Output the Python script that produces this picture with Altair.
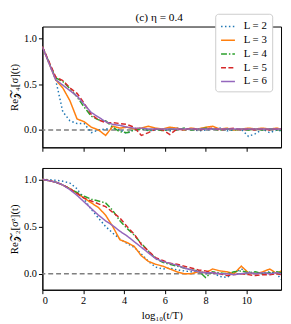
import altair as alt
import pandas as pd

X = [0.0, 0.65, 1.0, 1.35, 1.7, 2.05, 2.4, 2.75, 3.1, 3.45,
     3.8, 4.15, 4.5, 4.85, 5.2, 5.55, 5.9, 6.25, 6.6, 6.95,
     7.3, 7.65, 8.0, 8.35, 8.7, 9.05, 9.4, 9.75, 10.1, 10.45,
     10.8, 11.15, 11.5, 11.7]

LABELS = ["L = 2", "L = 3", "L = 4", "L = 5", "L = 6"]
COLORS = ["#1f77b4", "#ff7f0e", "#2ca02c", "#d62728", "#9467bd"]
DASHES = [[1.5, 2.5], [1, 0], [6, 2, 1.5, 2], [5, 2.5], [1, 0]]

# top panel: Re Z4^[sigma](t)
T2 = [0.91, 0.55, 0.20, 0.10, 0.07, 0.07, -0.03, 0.00, 0.01, 0.02,
      0.00, -0.04, 0.01, 0.02, -0.01, 0.00, 0.01, -0.01, 0.02, 0.00,
      0.01, -0.01, 0.00, 0.01, 0.02, -0.01, 0.00, 0.01, -0.07, -0.04,
      0.01, -0.03, 0.00, -0.01]
T3 = [0.91, 0.55, 0.46, 0.32, 0.12, 0.09, 0.03, 0.00, -0.06, 0.04,
      0.02, 0.03, 0.01, 0.02, 0.04, 0.02, 0.01, 0.03, 0.02, 0.00,
      0.02, 0.01, 0.03, 0.04, 0.01, 0.02, 0.00, 0.01, 0.02, 0.01,
      0.02, 0.01, 0.02, 0.01]
T4 = [0.91, 0.57, 0.53, 0.45, 0.36, 0.25, 0.15, 0.11, 0.10, 0.03,
      -0.02, -0.03, 0.00, 0.01, 0.00, 0.01, -0.01, 0.01, 0.00, 0.02,
      0.00, 0.01, 0.02, 0.01, 0.00, 0.01, 0.00, 0.01, 0.00, 0.01,
      0.00, 0.01, 0.00, 0.00]
T5 = [0.91, 0.58, 0.54, 0.46, 0.40, 0.29, 0.17, 0.11, 0.08, 0.08,
      0.07, 0.06, 0.03, -0.06, -0.03, 0.01, 0.00, -0.05, 0.01, 0.00,
      0.02, 0.00, 0.01, 0.02, 0.00, 0.01, 0.02, 0.00, 0.01, 0.00,
      0.01, 0.00, 0.01, 0.01]
T6 = [0.91, 0.55, 0.49, 0.43, 0.37, 0.28, 0.19, 0.14, 0.09, 0.06,
      0.05, 0.03, 0.02, 0.02, 0.01, 0.01, 0.01, 0.01, 0.01, 0.01,
      0.01, 0.01, 0.01, 0.01, 0.01, 0.01, 0.01, 0.01, 0.01, 0.01,
      0.01, 0.01, 0.01, 0.01]

# bottom panel: Re Z2^[sigma^z](t)
B2 = [1.00, 0.99, 0.98, 0.96, 0.90, 0.79, 0.68, 0.59, 0.50, 0.43,
      0.37, 0.32, 0.28, 0.21, 0.13, 0.07, 0.05, 0.06, 0.04, 0.03,
      0.02, 0.03, 0.00, 0.01, -0.03, -0.04, 0.01, 0.05, 0.02, 0.00,
      0.01, 0.02, 0.00, -0.06]
B3 = [1.00, 0.97, 0.94, 0.90, 0.85, 0.80, 0.75, 0.70, 0.62, 0.50,
      0.36, 0.33, 0.29, 0.19, 0.13, 0.10, 0.08, 0.05, 0.02, 0.00,
      0.00, 0.02, 0.01, 0.05, 0.03, 0.02, 0.00, 0.08, 0.01, 0.00,
      0.02, 0.05, 0.00, 0.03]
B4 = [1.00, 0.97, 0.94, 0.90, 0.86, 0.82, 0.79, 0.77, 0.75, 0.67,
      0.56, 0.48, 0.41, 0.32, 0.24, 0.16, 0.12, 0.10, 0.08, 0.06,
      0.04, 0.03, -0.04, 0.02, 0.01, 0.00, 0.02, 0.03, 0.01, 0.02,
      0.00, 0.01, 0.02, 0.01]
B5 = [1.00, 0.97, 0.94, 0.90, 0.85, 0.80, 0.77, 0.74, 0.71, 0.65,
      0.59, 0.50, 0.42, 0.31, 0.24, 0.17, 0.14, 0.11, 0.10, 0.08,
      0.06, 0.04, 0.03, 0.01, 0.00, -0.02, -0.01, 0.00, -0.01, -0.02,
      -0.01, -0.01, 0.00, -0.01]
B6 = [1.00, 0.97, 0.94, 0.89, 0.83, 0.76, 0.69, 0.62, 0.56, 0.51,
      0.45, 0.40, 0.34, 0.28, 0.22, 0.16, 0.13, 0.11, 0.09, 0.06,
      0.04, 0.02, 0.01, 0.01, 0.00, 0.00, -0.01, 0.00, 0.01, 0.00,
      0.01, 0.00, 0.01, 0.00]

ZERO = [0.0]
X_TICKS = [0, 2, 4, 6, 8, 10]
Y_TICKS = [0.0, 0.5, 1.0]
TITLE = ["(c) η = 0.4"]

FONT = "Liberation Serif"


def long(series):
    rows = []
    for lab, ys in zip(LABELS, series):
        for x, y in zip(X, ys):
            rows.append({"x": x, "y": y, "L": lab})
    return pd.DataFrame(rows)


def panel(df, ytitle, ydom, height, bottom, legend):
    xax = alt.Axis(values=X_TICKS, format="d", labels=bottom,
                   title="log₁₀(t/T)" if bottom else None)
    yax = alt.Axis(values=Y_TICKS, format=".1f", title=ytitle, titlePadding=4)
    xs = alt.Scale(domain=[0, 11.7], nice=False, zero=False)
    ys = alt.Scale(domain=ydom, nice=False, zero=False)
    zero = alt.Chart(pd.DataFrame({"z": ZERO})).mark_rule(
        color="#7f7f7f", strokeDash=[5, 3], strokeWidth=1.5
    ).encode(y=alt.Y("z:Q", scale=ys, axis=yax))
    lines = alt.Chart(df).mark_line(strokeWidth=1.5, clip=True).encode(
        x=alt.X("x:Q", scale=xs, axis=xax),
        y=alt.Y("y:Q", scale=ys, axis=yax),
        color=alt.Color("L:N", scale=alt.Scale(domain=LABELS, range=COLORS), legend=legend),
        strokeDash=alt.StrokeDash("L:N", scale=alt.Scale(domain=LABELS, range=DASHES), legend=legend),
    )
    return [zero, lines], height


leg = alt.Legend(orient="none", legendX=176, legendY=-13, title=None,
                 symbolType="stroke", symbolSize=200, symbolStrokeWidth=1.5,
                 fillColor="white", strokeColor="#cccccc", cornerRadius=3,
                 padding=5, labelFont=FONT, labelFontSize=11, rowPadding=1,
                 labelOffset=8)

top_layers, _ = panel(long([T2, T3, T4, T5, T6]), "Re𝒵₄[σ](t)", [-0.19, 1.13], 123, False, leg)
title_text = alt.Chart(pd.DataFrame({"t": TITLE})).mark_text(
    font=FONT, fontSize=11.5, fontWeight="normal", color="black", align="center", baseline="middle"
).encode(text="t:N", x=alt.value(119), y=alt.value(-9))
top = alt.layer(*top_layers, title_text).properties(width=243, height=123)

bot_layers, _ = panel(long([B2, B3, B4, B5, B6]), "Re𝒵₂[σᶻ](t)", [-0.17, 1.12], 124, True, None)
bot = alt.layer(*bot_layers).properties(width=243, height=124)

chart = alt.vconcat(top, bot, spacing=15).resolve_legend(
    color="independent", strokeDash="independent"
).properties(padding=0).configure_axis(
    labelFont=FONT, titleFont=FONT, labelFontSize=10.5, titleFontSize=11,
    titleFontWeight="normal", domainColor="black", tickColor="black",
    labelColor="black", titleColor="black", grid=False, tickSize=4, labelPadding=2
).configure_view(stroke="black", strokeWidth=1)

chart.save("out.html", embed_options={"renderer": "svg", "actions": False})
